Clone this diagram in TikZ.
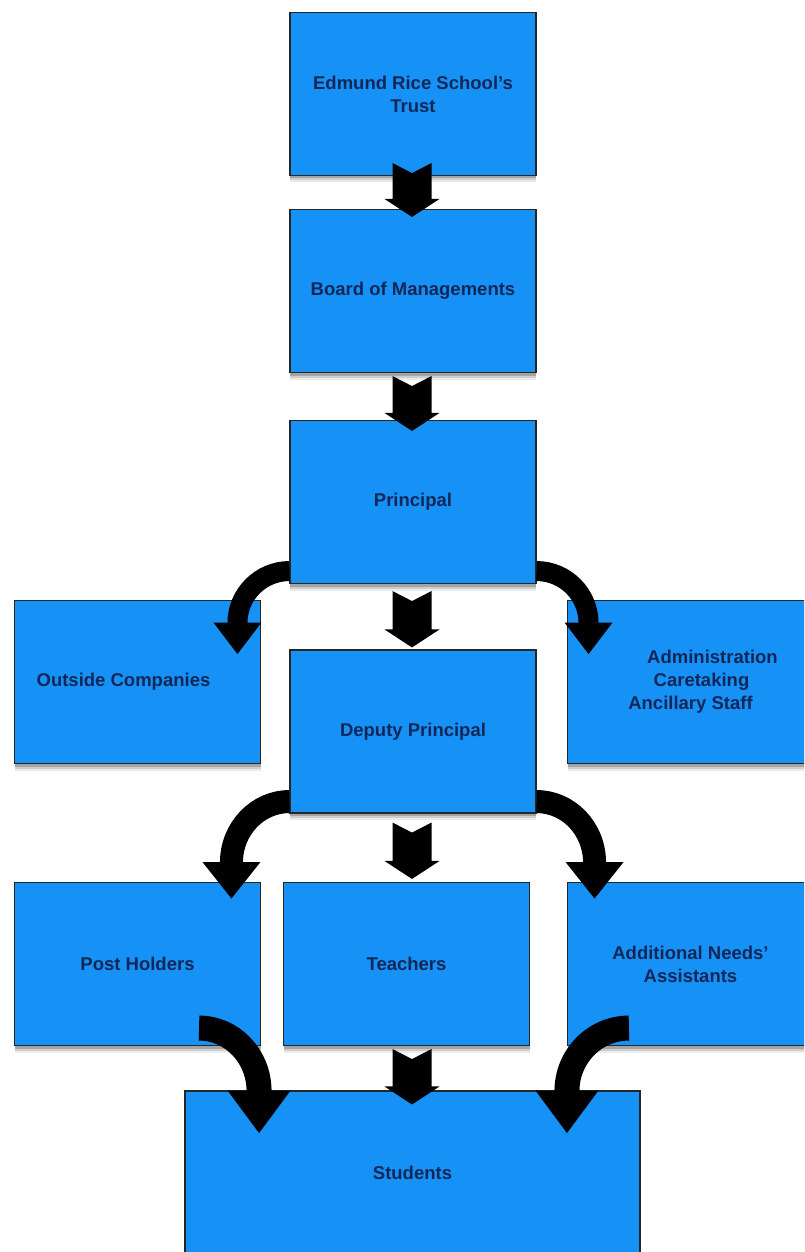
\documentclass[tikz,border=0pt]{standalone}
\usepackage{fontspec}
\setmainfont{Liberation Sans}
\usetikzlibrary{calc,shadows}
\definecolor{boxblue}{RGB}{22,146,246}
\definecolor{txtnavy}{RGB}{18,38,88}
\tikzset{
  orgbox/.style={draw=black!85, line width=1.1pt, fill=boxblue,
    minimum width=246pt, minimum height=163pt, inner sep=0pt,
    text=txtnavy, font=\bfseries\fontsize{18.5}{23}\selectfont, align=center,
    drop shadow={shadow xshift=0pt, shadow yshift=-7pt, opacity=0.08, fill=black},
    drop shadow={shadow xshift=0pt, shadow yshift=-5pt, opacity=0.12, fill=black},
    drop shadow={shadow xshift=0pt, shadow yshift=-3pt, opacity=0.2, fill=black}},
  arrowfill/.style={fill=black},
  arrowline/.style={draw=black, line cap=butt}
}
\newcommand\vblock[2]{%
  \fill[arrowfill] let \p1=#1, \p2=#2 in
    (\x1-19.5pt,\y1) -- (\x1,\y1-10pt) -- (\x1+19.5pt,\y1) -- (\x1+19.5pt,\y2+18pt)
    -- (\x1+27.5pt,\y2+18pt) -- (\x1,\y2) -- (\x1-27.5pt,\y2+18pt) -- (\x1-19.5pt,\y2+18pt) -- cycle;}
\newcommand\carrow[6]{%
  \draw[arrowline, line width=#4pt] #1 .. controls +({0.552*(#2)},0) and +(0,{-0.552*(#3)}) .. ++(#2,#3) coordinate (cend);
  \fill[arrowfill] let \p1=(cend) in (\x1-#5pt,\y1+0.5pt) -- (\x1+#5pt,\y1+0.5pt) -- (\x1,\y1-#6pt) -- cycle;}
\begin{document}
\begin{tikzpicture}[x=1pt,y=-1pt]
\useasboundingbox (0,0) rectangle (804,1252);
\clip (0,0) rectangle (804,1252);
\fill[white] (0,0) rectangle (804,1252);

\node[orgbox] (trust) at (413,94) {Edmund Rice School’s\\Trust};
\node[orgbox] (board) at (413,291) {Board of Managements};
\node[orgbox] (principal) at (413,502) {Principal};
\node[orgbox] (outside) at (137.5,682) {Outside Companies\hspace*{28pt}};
\node[orgbox] (admin) at (690.5,682) {\hspace*{44pt}Administration\\\hspace*{22pt}Caretaking\\Ancillary Staff};
\node[orgbox] (deputy) at (413,731.5) {Deputy Principal};
\node[orgbox] (post) at (137.5,964) {Post Holders};
\node[orgbox] (teachers) at (406.5,964) {Teachers};
\node[orgbox] (additional) at (690.5,964) {Additional Needs’\\Assistants};
\node[orgbox, minimum width=455pt] (students) at (412.5,1172.5) {Students};

\vblock{($(trust.south)+(-1,-13)$)}{($(board.north)+(-1,8)$)}
\vblock{($(board.south)+(-1,3)$)}{($(principal.north)+(-1,11)$)}
\vblock{($(principal.south)+(-1,7)$)}{($(deputy.north)+(-1,-2)$)}
\vblock{($(deputy.south)+(-1,9)$)}{($(teachers.north)+(5.5,-3)$)}
\vblock{($(teachers.south)+(5.5,3)$)}{($(students.north)+(0,14)$)}

\carrow{($(principal.south west)+(0,-13)$)}{-52}{52}{20}{24}{31}
\carrow{($(principal.south east)+(0,-13)$)}{52}{52}{20}{24}{31}
\carrow{($(deputy.south west)+(0,-12)$)}{-58}{61}{23}{29}{36}
\carrow{($(deputy.south east)+(0,-12)$)}{58}{61}{23}{29}{36}
\carrow{($(post.south east)+(-62,-18)$)}{60}{63}{25}{31.5}{42}
\carrow{($(additional.south west)+(62,-18)$)}{-62}{63}{25}{31.5}{42}
\end{tikzpicture}
\end{document}
